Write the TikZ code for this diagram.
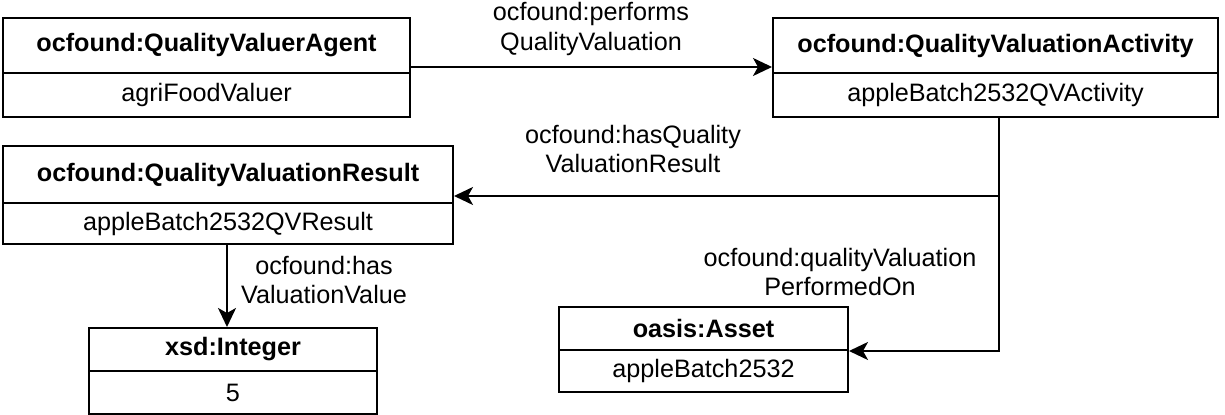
\documentclass[tikz,border=0pt]{standalone}
\usepackage{fontspec}
\setmainfont{Liberation Sans}
\usetikzlibrary{arrows.meta}
\begin{document}
\begin{tikzpicture}[x=0.5pt,y=-0.5pt,
  cell/.style 2 args={draw, line width=1pt, inner sep=0pt, anchor=north west,
    minimum width=#1*0.5pt, minimum height=#2*0.5pt,
    font=\fontsize{12.6}{14.8}\selectfont},
  hdr/.style 2 args={cell={#1}{#2}, font=\fontsize{12.6}{14.8}\selectfont\bfseries},
  lbl/.style={align=center, inner sep=0pt, font=\fontsize{12.6}{14.8}\selectfont},
  arr/.style={line width=1pt, -{Stealth[length=9.5pt,width=9pt,inset=2.5pt]}}]
\useasboundingbox (0,0) rectangle (1225,415);
% classes
\node[hdr={407}{55}] (agentH) at (2,17) {ocfound:QualityValuerAgent};
\node[cell={407}{44}] (agentB) at (2,72) {agriFoodValuer};
\node[hdr={445}{55}] (actH) at (772,17) {ocfound:QualityValuationActivity};
\node[cell={445}{44}] (actB) at (772,72) {appleBatch2532QVActivity};
\node[hdr={450}{57}] (resH) at (2,145) {ocfound:QualityValuationResult};
\node[cell={450}{41}] (resB) at (2,202) {appleBatch2532QVResult};
\node[hdr={288}{43}] (intH) at (88,327) {xsd:Integer};
\node[cell={288}{43}] (intB) at (88,370) {5};
\node[hdr={289}{43}] (assetH) at (558,306) {oasis:Asset};
\node[cell={289}{42}] (assetB) at (558,349) {appleBatch2532};
% connectors
\draw[arr] ([yshift=3.5pt]agentH.south east) -- ([yshift=3.5pt]actH.south west);
\draw[arr] ([xshift=1.75pt]actB.south) |- ([yshift=4pt]resH.south east);
\draw[arr] ([xshift=1.75pt]actB.south) |- (assetH.south east);
\draw[arr] ([xshift=-0.5pt]resB.south) -- ([xshift=-0.5pt]resB.south |- intH.north);
% labels
\node[lbl] (l1) at (591,29) {ocfound:performs\\QualityValuation};
\node[lbl] (l2) at (633,149) {ocfound:hasQuality\\ValuationResult};
\node[lbl] (l3) at (324,280) {ocfound:has\\ValuationValue};
\node[lbl] (l4) at (840,272) {ocfound:qualityValuation\\PerformedOn};
\end{tikzpicture}
\end{document}
